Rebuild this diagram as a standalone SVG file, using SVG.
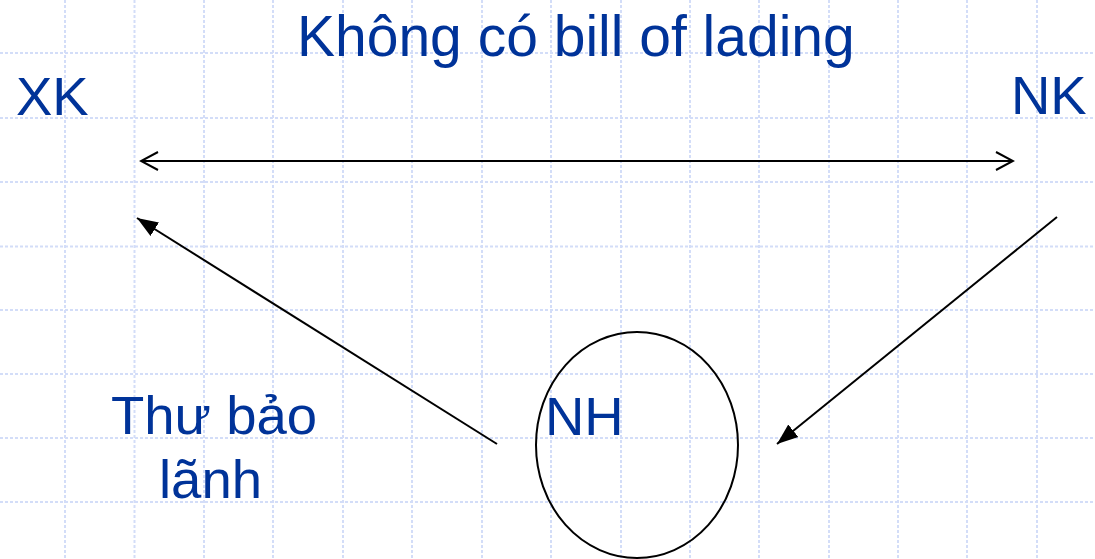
<svg xmlns="http://www.w3.org/2000/svg" width="1095" height="559" viewBox="0 0 1095 559">
<style>
.grid line{stroke:#d3ddf8;stroke-width:2;stroke-dasharray:3 2}
.lbl{font-family:"Liberation Sans",Arial,sans-serif;fill:#003399}
.conn{stroke:#000;stroke-width:2;fill:none}
</style>
<defs>
<marker id="open" markerUnits="userSpaceOnUse" viewBox="0 0 20 20" refX="18" refY="10" markerWidth="20" markerHeight="20" orient="auto-start-reverse">
<path d="M1,1 L18,10 L1,19" fill="none" stroke="#000" stroke-width="2"/>
</marker>
<marker id="solid" markerUnits="userSpaceOnUse" viewBox="0 0 22 18" refX="21" refY="9" markerWidth="22" markerHeight="18" orient="auto">
<path d="M0,1 L21,9 L0,17 Z" fill="#000"/>
</marker>
</defs>
<rect width="1095" height="559" fill="#fff"/>
<g class="grid">
<line x1="65" y1="0" x2="65" y2="559"/>
<line x1="134.5" y1="0" x2="134.5" y2="559"/>
<line x1="204" y1="0" x2="204" y2="559"/>
<line x1="273" y1="0" x2="273" y2="559"/>
<line x1="343" y1="0" x2="343" y2="559"/>
<line x1="412" y1="0" x2="412" y2="559"/>
<line x1="482" y1="0" x2="482" y2="559"/>
<line x1="551" y1="0" x2="551" y2="559"/>
<line x1="621" y1="0" x2="621" y2="559"/>
<line x1="690" y1="0" x2="690" y2="559"/>
<line x1="759" y1="0" x2="759" y2="559"/>
<line x1="829" y1="0" x2="829" y2="559"/>
<line x1="898" y1="0" x2="898" y2="559"/>
<line x1="967" y1="0" x2="967" y2="559"/>
<line x1="1037" y1="0" x2="1037" y2="559"/>
<line x1="0" y1="53" x2="1095" y2="53"/>
<line x1="0" y1="118" x2="1095" y2="118"/>
<line x1="0" y1="182" x2="1095" y2="182"/>
<line x1="0" y1="246.5" x2="1095" y2="246.5"/>
<line x1="0" y1="310" x2="1095" y2="310"/>
<line x1="0" y1="374" x2="1095" y2="374"/>
<line x1="0" y1="438" x2="1095" y2="438"/>
<line x1="0" y1="502" x2="1095" y2="502"/>
</g>
<text class="lbl" x="297" y="56" font-size="57">Không có bill of lading</text>
<g id="node-xk"><text class="lbl" x="16" y="115" font-size="54.5">XK</text></g>
<g id="node-nk"><text class="lbl" x="1011" y="114" font-size="54.5">NK</text></g>
<g id="node-nh">
<ellipse cx="637" cy="445" rx="101" ry="113" fill="none" stroke="#000" stroke-width="2"/>
<text class="lbl" x="545" y="435" font-size="54.5">NH</text>
</g>
<g id="label-thu-bao-lanh">
<text class="lbl" x="111" y="434" font-size="54.5">Thư bảo</text>
<text class="lbl" x="159" y="498" font-size="54.5">lãnh</text>
</g>
<g id="connectors">
<line class="conn" x1="141" y1="161" x2="1013" y2="161" marker-start="url(#open)" marker-end="url(#open)"/>
<line class="conn" x1="497" y1="444" x2="137" y2="218" marker-end="url(#solid)"/>
<line class="conn" x1="1057" y1="217" x2="777" y2="444" marker-end="url(#solid)"/>
</g>
</svg>
